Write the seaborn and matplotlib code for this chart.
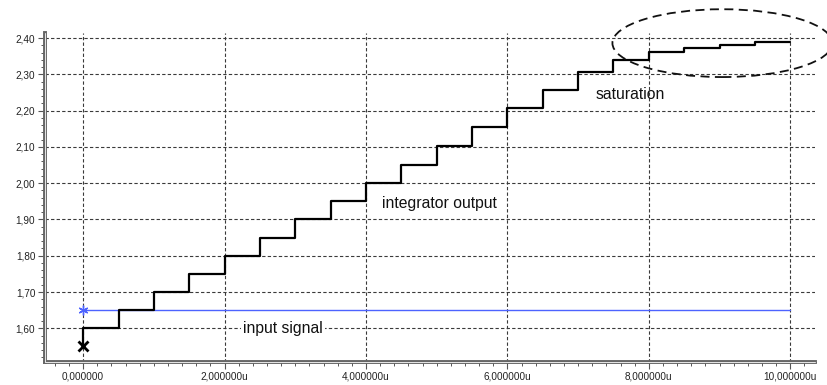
import matplotlib
matplotlib.use("Agg")
import matplotlib.pyplot as plt
from matplotlib.patches import Ellipse
from matplotlib.ticker import MultipleLocator, FuncFormatter
import seaborn as sns
import pandas as pd

# Integrator step response (time in microseconds)
step_times = [0.0, 0.0, 0.5, 1.0, 1.5, 2.0, 2.5, 3.0, 3.5, 4.0, 4.5,
              5.0, 5.5, 6.0, 6.5, 7.0, 7.5, 8.0, 8.5, 9.0, 9.5, 10.0]
integrator_out = [1.55, 1.60, 1.65, 1.70, 1.75, 1.80, 1.85, 1.90, 1.95, 2.00, 2.05,
                  2.103, 2.156, 2.208, 2.257, 2.306, 2.340, 2.362, 2.374, 2.382, 2.388, 2.388]
input_times = [0.0, 10.0]
input_level = [1.65, 1.65]

sns.set_theme(style="white")
plt.rcParams["font.family"] = ["Liberation Sans", "DejaVu Sans"]

fig = plt.figure(figsize=(8.27, 3.85), dpi=100)
ax = fig.add_axes([0.0544, 0.0597, 0.9311, 0.8546])

out_df = pd.DataFrame({"t": step_times, "v": integrator_out})
in_df = pd.DataFrame({"t": input_times, "v": input_level})

sns.lineplot(data=in_df, x="t", y="v", ax=ax, color="#4d63ff", lw=1.0,
             estimator=None, sort=False, zorder=3)
sns.lineplot(data=out_df, x="t", y="v", ax=ax, color="black", lw=1.6,
             drawstyle="steps-post", estimator=None, sort=False, zorder=4)

# start markers
ax.plot(input_times[0], input_level[0], marker=(6, 2, 0), ms=7, mew=1.0,
        color="#4d63ff", zorder=5)
ax.plot(step_times[0], integrator_out[0], marker="x", ms=7, mew=2.0,
        color="black", zorder=5)

ax.set_xlim(-0.54, 10.35)
ax.set_ylim(1.507, 2.414)

ax.xaxis.set_major_locator(MultipleLocator(2.0))
ax.xaxis.set_minor_locator(MultipleLocator(0.2))
ax.yaxis.set_major_locator(MultipleLocator(0.1))
ax.yaxis.set_minor_locator(MultipleLocator(0.02))

ax.xaxis.set_major_formatter(FuncFormatter(
    lambda v, p: "0,000000" if abs(v) < 1e-9 else f"{v:.6f}".replace(".", ",") + "u"))
ax.yaxis.set_major_formatter(FuncFormatter(lambda v, p: f"{v:.2f}".replace(".", ",")))

ax.grid(True, which="major", color="#3a3a3a", linestyle=(0, (3, 2)), lw=0.8)
ax.set_axisbelow(True)

for s in ("top", "right"):
    ax.spines[s].set_visible(False)
for s in ("left", "bottom"):
    ax.spines[s].set_color("#666666")
    ax.spines[s].set_linewidth(2.8)
# thin light core so the axis lines read as double rules
ax.plot([0, 0], [0, 1], transform=ax.transAxes, color="#e8e8e8", lw=0.7,
        clip_on=False, zorder=10)
ax.plot([0, 1], [0, 0], transform=ax.transAxes, color="#e8e8e8", lw=0.7,
        clip_on=False, zorder=10)

ax.tick_params(axis="both", which="major", direction="out", length=5, width=0.8,
               color="#555555", labelsize=7.2, labelcolor="#222222", pad=2,
               bottom=True, left=True)
ax.tick_params(axis="both", which="minor", direction="out", length=3, width=0.7,
               color="#555555", bottom=True, left=True)
ax.set_xlabel("")
ax.set_ylabel("")

ax.text(5.04, 1.943, "integrator output", fontsize=11.3, ha="center", va="center",
        color="#111111", zorder=6)
ax.text(7.74, 2.245, "saturation", fontsize=11.3, ha="center", va="center",
        color="#111111", zorder=6)
ax.text(2.83, 1.60, "input signal", fontsize=11.3, ha="center", va="center",
        color="#111111", zorder=6,
        bbox=dict(facecolor="white", edgecolor="none", pad=1.5))

ell = Ellipse((9.04, 2.386), width=3.11, height=0.187, fill=False,
              edgecolor="#111111", linestyle=(0, (5, 3)), lw=1.3,
              clip_on=False, zorder=6)
ax.add_patch(ell)

fig.savefig("out.png", dpi=100, facecolor="white")
